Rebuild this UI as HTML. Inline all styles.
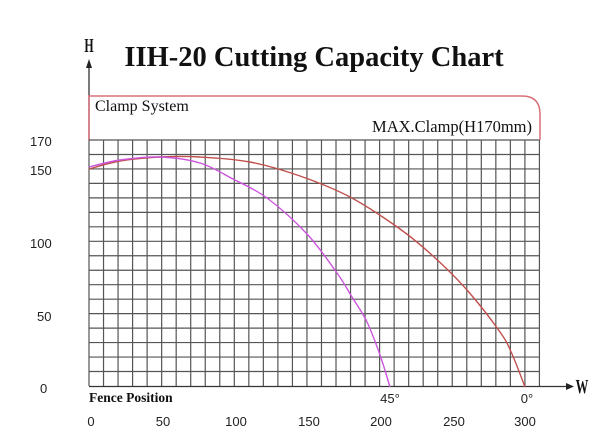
<!DOCTYPE html>
<html><head><meta charset="utf-8"><style>
html,body{margin:0;padding:0;background:#fff;}
svg{display:block;}
.s{font-family:"Liberation Sans",sans-serif;font-size:13px;fill:#222;}
.r{font-family:"Liberation Serif",serif;fill:#111;}
</style></head><body>
<svg id="c" width="600" height="446" viewBox="0 0 600 446" xmlns="http://www.w3.org/2000/svg">
<text x="314" y="66" text-anchor="middle" class="r" font-size="28.5" font-weight="bold">IIH-20 Cutting Capacity Chart</text>
<text x="89" y="52" text-anchor="middle" class="r" font-size="17" font-weight="bold" transform="translate(89,52) scale(0.7,1.15) translate(-89,-52)">H</text>
<line x1="89" y1="62" x2="89" y2="140" stroke="#333" stroke-width="1.3"/>
<polygon points="86,68 92,68 89,59" fill="#222"/>
<path d="M89,140 V96 H522 Q540,96 540,114 V140" fill="none" stroke="#d9707a" stroke-width="1.5"/>
<text x="95" y="111" class="r" font-size="16">Clamp System</text>
<text x="532" y="132" text-anchor="end" class="r" font-size="16.5">MAX.Clamp(H170mm)</text>
<g id="grid" stroke="#555" stroke-width="1.2"></g>
<line x1="89" y1="386.5" x2="568" y2="386.5" stroke="#333" stroke-width="1.3"/>
<polygon points="566,383 566,390 574,386.5" fill="#222"/>
<text x="582" y="393" text-anchor="middle" class="r" font-size="17" font-weight="bold" transform="translate(582,393) scale(0.75,1.2) translate(-582,-393)">W</text>
<path id="red" fill="none" stroke="#c0504d" stroke-width="1.4"/>
<path id="mag" fill="none" stroke="#cc55dd" stroke-width="1.4"/>
<g class="s">
<text x="30" y="146">170</text><text x="30" y="175">150</text><text x="30" y="248">100</text><text x="37" y="321">50</text><text x="40" y="393">0</text>
</g>
<text x="89" y="402" class="r" font-size="13.5" font-weight="bold">Fence Position</text>
<text x="390" y="403" class="s" font-size="11" text-anchor="middle">45°</text>
<text x="527" y="403" class="s" font-size="11" text-anchor="middle">0°</text>
<g class="s" text-anchor="middle">
<text x="91" y="426">0</text><text x="163" y="426">50</text><text x="236" y="426">100</text><text x="309" y="426">150</text><text x="381" y="426">200</text><text x="454" y="426">250</text><text x="525" y="426">300</text>
</g>
</svg>
<script>
var g=document.getElementById('grid'),ns='http://www.w3.org/2000/svg';
for(var i=0;i<=31;i++){var x=89+14.53*i;var l=document.createElementNS(ns,'line');l.setAttribute('x1',x);l.setAttribute('x2',x);l.setAttribute('y1',140);l.setAttribute('y2',386);g.appendChild(l);}
for(var j=0;j<=16;j++){var y=140+14.47*j;var l=document.createElementNS(ns,'line');l.setAttribute('x1',89);l.setAttribute('x2',539.4);l.setAttribute('y1',y);l.setAttribute('y2',y);g.appendChild(l);}
function cr(p){var d='M'+p[0][0]+','+p[0][1];for(var i=0;i<p.length-1;i++){var p0=p[i-1]||p[i],p1=p[i],p2=p[i+1],p3=p[i+2]||p2;
d+=' C'+(p1[0]+(p2[0]-p0[0])/6)+','+(p1[1]+(p2[1]-p0[1])/6)+' '+(p2[0]-(p3[0]-p1[0])/6)+','+(p2[1]-(p3[1]-p1[1])/6)+' '+p2[0]+','+p2[1];}return d;}
document.getElementById('red').setAttribute('d',cr([[89,169],[120,161],[160,157],[200,157],[250,162],[300,176],[350,197],[400,229],[433,256],[467,290],[500,332],[512,354],[525,387]]));
document.getElementById('mag').setAttribute('d',cr([[89,167],[120,160],[160,157],[200,163],[233,179],[267,198],[307,234],[337,273],[352,297],[367,322],[380,355],[390,387]]));
</script>
</body></html>
